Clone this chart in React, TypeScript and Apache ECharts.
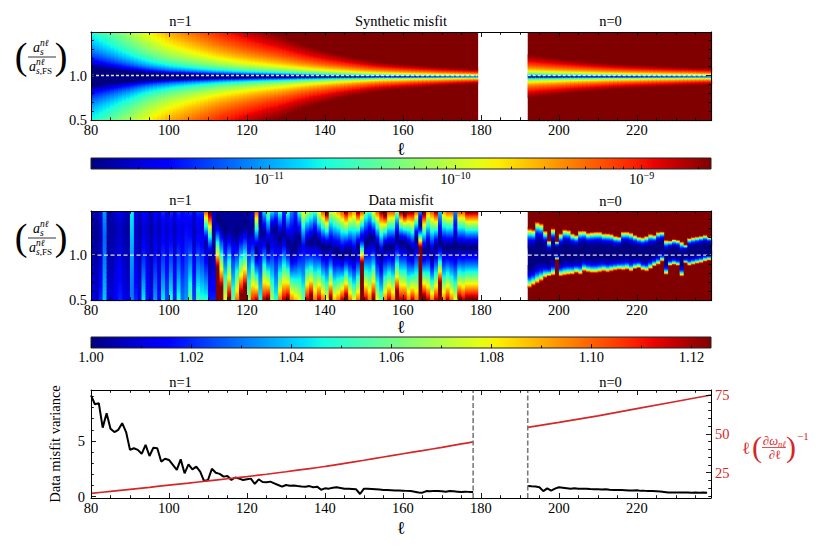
import React, { useEffect, useRef } from "react";
import * as echarts from "echarts";

// ---------------- data ----------------
const N1_FIRST = 80; // first n=1 mode (cells span [l, l+1])
const N1_LAST = 178;
const N0_FIRST = 192;
const N0_LAST = 238;
const X_MIN = 80;
const X_MAX = 239;
const S_MIN = 0.5;
const S_MAX = 1.49;
const S_STEP = 0.01;

const xMajorTicks = [80, 100, 120, 140, 160, 180, 200, 220];
const xMinorTicks = [85, 90, 95, 105, 110, 115, 125, 130, 135, 145, 150, 155, 165, 170, 175, 185, 190, 195, 205, 210, 215, 225, 230, 235];
const sMajorTicks = [0.5, 1.0];
const sMinorTicks = [0.6, 0.7, 0.8, 0.9, 1.1, 1.2, 1.3, 1.4];

// synthetic misfit: log10 gain vs l (read from the contour widths), misfit ~ gain * (s-1)^2
const synthGainL1 = [80, 85, 90, 95, 100, 107, 113, 120, 129, 137, 154, 179];
const synthGain1 = [-10.07, -9.80, -9.50, -9.18, -8.92, -8.66, -8.44, -8.22, -7.96, -7.66, -7.06, -6.46];
const synthGainL0 = [192, 215, 239];
const synthGain0 = [-7.42, -6.93, -6.56];

// colour bar 1 (log10 of misfit)
const cb1Min = -11.955;
const cb1Max = -8.628;
const cb1Labels = [-11, -10, -9];
const cb1Minor = [-11.699, -11.523, -11.398, -11.301, -11.222, -11.155, -11.097, -11.046, -10.699, -10.523, -10.398, -10.301, -10.222, -10.155, -10.097, -10.046, -9.699, -9.523, -9.398, -9.301, -9.222, -9.155, -9.097, -9.046, -8.699];

// colour bar 2
const cb2Min = 1.0;
const cb2Max = 1.1239;
const cb2Labels = [1.0, 1.02, 1.04, 1.06, 1.08, 1.1, 1.12];
const cb2Minor = [1.01, 1.03, 1.05, 1.07, 1.09, 1.11];

// data misfit, n=1 columns (l = 80..178): minimum, its position, value at top edge, value at bottom edge
const dmMin1 = [
  1.004, 1.002, 1.006, 1.028, 1.003, 1.004, 1.006, 1.008, 1.005, 1.004,
  1.03, 1.008, 1.004, 1.01, 1.008, 1.004, 1.01, 1.006, 1.012, 1.008,
  1.012, 1.006, 1.012, 1.01, 1.015, 1.012, 1.006, 1.012, 1.01, 1.005,
  1.003, 1.002, 1.0, 1.0, 1.0, 1.002, 1.002, 1.0, 1.002, 1.0,
  1.003, 1.002, 1.0, 1.002, 1.003, 1.0, 1.004, 1.002, 1.0, 1.003,
  1.0, 1.0, 1.0, 1.0, 1.015, 1.003, 1.0, 1.0, 1.0, 1.0,
  1.0, 1.002, 1.0, 1.0, 1.0, 1.0, 1.0, 1.003, 1.0, 1.01,
  1.0, 1.0, 1.0, 1.0, 1.002, 1.0, 1.0, 1.0, 1.0, 1.0,
  1.0, 1.0, 1.0, 1.0, 1.0, 1.0, 1.0, 1.0, 1.0, 1.0,
  1.0, 1.0, 1.0, 1.0, 1.0, 1.0, 1.0, 1.0, 1.0,
];
const dmCenter1 = [
  1.3, 1.3, 1.2, 1.2, 1.3, 1.3, 1.3, 1.3, 1.3, 1.3,
  0.6, 1.2, 1.3, 1.3, 1.3, 1.3, 1.3, 1.3, 1.3, 1.3,
  1.3, 1.3, 1.3, 1.3, 1.4, 1.35, 1.3, 1.3, 1.3, 1.15,
  1.0, 1.2, 1.4, 1.35, 1.3, 1.3, 1.3, 1.25, 1.3, 1.35,
  1.3, 1.3, 1.05, 1.3, 1.25, 1.1, 1.3, 1.3, 1.2, 1.25,
  1.15, 1.05, 1.1, 1.2, 1.1, 1.15, 1.15, 1.2, 1.15, 1.1,
  1.1, 1.1, 1.05, 1.05, 1.0, 1.05, 1.05, 1.0, 1.1, 1.2,
  1.15, 1.2, 1.2, 1.1, 1.0, 1.1, 1.1, 1.1, 1.2, 1.15,
  1.15, 1.1, 1.05, 1.2, 1.35, 1.05, 1.1, 1.0, 1.1, 1.15,
  1.1, 1.1, 1.1, 1.1, 1.1, 1.1, 1.1, 1.1, 1.1,
];
const dmTop1 = [
  1.006, 1.004, 1.01, 1.034, 1.005, 1.006, 1.01, 1.012, 1.008, 1.006,
  1.045, 1.012, 1.006, 1.015, 1.012, 1.006, 1.015, 1.01, 1.02, 1.012,
  1.02, 1.01, 1.02, 1.015, 1.018, 1.02, 1.01, 1.02, 1.02, 1.1,
  1.13, 1.01, 1.003, 1.003, 1.005, 1.004, 1.004, 1.005, 1.003, 1.005,
  1.005, 1.01, 1.1, 1.01, 1.04, 1.06, 1.04, 1.03, 1.05, 1.02,
  1.05, 1.03, 1.02, 1.05, 1.08, 1.07, 1.06, 1.05, 1.08, 1.1,
  1.13, 1.07, 1.08, 1.09, 1.1, 1.12, 1.1, 1.09, 1.12, 1.1,
  1.06, 1.05, 1.08, 1.1, 1.12, 1.14, 1.1, 1.1, 1.06, 1.12,
  1.14, 1.12, 1.12, 1.1, 1.03, 1.13, 1.09, 1.1, 1.12, 1.04,
  1.09, 1.1, 1.1, 1.03, 1.1, 1.1, 1.12, 1.12, 1.12,
];
const dmBot1 = [
  1.012, 1.008, 1.02, 1.04, 1.01, 1.01, 1.015, 1.02, 1.012, 1.01,
  1.032, 1.02, 1.01, 1.045, 1.018, 1.01, 1.035, 1.015, 1.045, 1.025,
  1.05, 1.02, 1.05, 1.03, 1.035, 1.06, 1.025, 1.055, 1.05, 1.05,
  1.02, 1.02, 1.25, 1.16, 1.08, 1.13, 1.06, 1.1, 1.14, 1.16,
  1.07, 1.11, 1.12, 1.05, 1.12, 1.13, 1.07, 1.05, 1.1, 1.12,
  1.13, 1.1, 1.09, 1.08, 1.06, 1.12, 1.14, 1.1, 1.12, 1.1,
  1.08, 1.13, 1.09, 1.1, 1.12, 1.14, 1.1, 1.08, 1.1, 1.4,
  1.12, 1.1, 1.13, 1.08, 1.06, 1.1, 1.12, 1.1, 1.15, 1.12,
  1.12, 1.1, 1.12, 1.1, 1.6, 1.14, 1.12, 1.1, 1.12, 1.2,
  1.1, 1.12, 1.1, 1.08, 1.13, 1.12, 1.13, 1.13, 1.13,
];

// data misfit, n=0 columns (l = 192..238): upper and lower edge of the low-misfit band
const dmUpper0 = [
  1.31, 1.3, 1.385, 1.367, 1.285, 1.174, 1.311, 1.163, 1.255, 1.3,
  1.293, 1.255, 1.237, 1.285, 1.285, 1.263, 1.27, 1.274, 1.274, 1.255,
  1.255, 1.248, 1.226, 1.218, 1.274, 1.274, 1.263, 1.237, 1.218, 1.211,
  1.226, 1.248, 1.237, 1.27, 1.274, 1.181, 1.174, 1.189, 1.181, 1.163,
  1.126, 1.2, 1.211, 1.218, 1.226, 1.237, 1.218,
];
const dmLower0 = [
  0.644, 0.67, 0.692, 0.718, 0.755, 0.773, 0.781, 0.959, 0.773, 0.781,
  0.788, 0.792, 0.81, 0.792, 0.829, 0.818, 0.81, 0.81, 0.818, 0.829,
  0.818, 0.829, 0.84, 0.848, 0.84, 0.848, 0.829, 0.855, 0.866, 0.84,
  0.829, 0.855, 0.885, 0.903, 0.94, 0.792, 0.892, 0.903, 0.892, 0.773,
  0.922, 0.892, 0.903, 0.914, 0.922, 0.94, 0.951,
];

// bottom panel: data misfit variance
const variance1 = [
  9.1, 8.3, 8.4, 6.2, 7.5, 6.1, 5.8, 6.0, 6.6, 5.8,
  4.2, 4.35, 4.2, 3.85, 4.65, 3.65, 4.4, 4.35, 3.15, 3.4,
  3.3, 2.85, 2.4, 3.35, 2.1, 2.9, 2.45, 2.7, 2.25, 1.4,
  1.5, 2.5, 2.15, 2.05, 1.8, 1.86, 1.5, 1.72, 1.62, 1.5,
  1.56, 1.62, 1.14, 1.56, 1.32, 1.29, 1.35, 1.2, 1.05, 0.9,
  1.05, 0.98, 1.0, 0.95, 0.92, 0.9, 0.95, 0.85, 0.9, 0.62,
  0.75, 0.72, 0.8, 0.84, 0.78, 0.72, 0.7, 0.68, 0.66, 0.24,
  0.72, 0.7, 0.68, 0.66, 0.64, 0.6, 0.6, 0.58, 0.56, 0.55,
  0.54, 0.52, 0.5, 0.45, 0.38, 0.36, 0.5, 0.48, 0.52, 0.5,
  0.48, 0.45, 0.5, 0.48, 0.45, 0.42, 0.45, 0.43, 0.42,
];
const variance0 = [
  0.96, 0.93, 0.92, 0.85, 0.5, 0.75, 0.55, 0.72, 0.84, 0.8,
  0.76, 0.72, 0.75, 0.72, 0.7, 0.72, 0.68, 0.66, 0.66, 0.64,
  0.66, 0.62, 0.6, 0.6, 0.6, 0.58, 0.55, 0.55, 0.57, 0.52,
  0.52, 0.5, 0.5, 0.48, 0.46, 0.42, 0.38, 0.38, 0.37, 0.38,
  0.38, 0.37, 0.36, 0.38, 0.36, 0.37, 0.36,
];
// l (d omega / d l)^-1
const dispL1 = [80, 85, 90, 95, 100, 105, 110, 115, 120, 125, 130, 135, 140, 145, 150, 155, 160, 165, 170, 175, 178];
const disp1 = [11.7, 13.0, 14.3, 15.6, 17.0, 18.3, 19.7, 21.1, 22.5, 24.0, 25.6, 27.3, 29.0, 31.0, 33.0, 35.1, 37.2, 39.2, 41.3, 43.5, 44.8];
const dispL0 = [192, 200, 210, 220, 230, 239];
const disp0 = [54.2, 57.4, 61.6, 66.2, 70.8, 75.0];

const varMin = -0.12;
const varMax = 9.58;
const varMajor = [0, 5];
const varMinor = [1, 2, 3, 4, 6, 7, 8, 9];
const dispMin = 8.72;
const dispMax = 78.2;
const dispMajor = [25, 50, 75];
const dispMinor = [10, 15, 20, 30, 35, 40, 45, 55, 60, 65, 70];
const separators = [178, 192];

// ---------------- helpers ----------------
const FONT = "Liberation Serif, serif";
const RED = "#d62728";
const DM_POWER = 1.3; // shape of the n=1 data-misfit columns away from their minimum

function interp(xs: number[], ys: number[], x: number): number {
  if (x <= xs[0]) return ys[0];
  for (let i = 1; i < xs.length; i++) {
    if (x <= xs[i]) {
      const t = (x - xs[i - 1]) / (xs[i] - xs[i - 1]);
      return ys[i - 1] + t * (ys[i] - ys[i - 1]);
    }
  }
  return ys[ys.length - 1];
}

const JR = { x: [0, 0.35, 0.66, 0.89, 1], y: [0, 0, 1, 1, 0.5] };
const JG = { x: [0, 0.125, 0.375, 0.64, 0.91, 1], y: [0, 0, 1, 1, 0, 0] };
const JB = { x: [0, 0.11, 0.34, 0.65, 1], y: [0.5, 1, 1, 0, 0] };
function jet(t: number): string {
  const c = (v: number) => Math.round(Math.max(0, Math.min(1, v)) * 255);
  return `rgb(${c(interp(JR.x, JR.y, t))},${c(interp(JG.x, JG.y, t))},${c(interp(JB.x, JB.y, t))})`;
}
const PALETTE: string[] = [];
for (let i = 0; i < 256; i++) PALETTE.push(jet(i / 255));
function colorIndex(t: number): number {
  if (!isFinite(t)) return t > 0 ? 255 : 0;
  return Math.max(0, Math.min(255, Math.floor(t * 256)));
}

function columnRuns(l: number, tAt: (sc: number) => number, out: number[][]) {
  const nRows = Math.round((S_MAX - S_MIN) / S_STEP);
  let start = S_MIN;
  let cur = -1;
  for (let k = 0; k < nRows; k++) {
    const lo = S_MIN + k * S_STEP;
    const ci = colorIndex(tAt(lo + S_STEP / 2));
    if (ci !== cur) {
      if (cur >= 0) out.push([l, start, lo, cur]);
      cur = ci;
      start = lo;
    }
  }
  out.push([l, start, S_MAX, cur]);
}

function buildSynth(): number[][] {
  const out: number[][] = [];
  const tOf = (g: number, sc: number) => (g + 2 * Math.log10(Math.abs(sc - 1)) - cb1Min) / (cb1Max - cb1Min);
  for (let l = N1_FIRST; l <= N1_LAST; l++) {
    const g = interp(synthGainL1, synthGain1, l + 0.5);
    columnRuns(l, (sc) => tOf(g, sc), out);
  }
  for (let l = N0_FIRST; l <= N0_LAST; l++) {
    const g = interp(synthGainL0, synthGain0, l + 0.5);
    columnRuns(l, (sc) => tOf(g, sc), out);
  }
  return out;
}

function buildDataMisfit(): number[][] {
  const out: number[][] = [];
  const span = cb2Max - cb2Min;
  for (let i = 0; i < dmMin1.length; i++) {
    const l = N1_FIRST + i;
    const f = dmMin1[i];
    const c = dmCenter1[i];
    const dTop = S_MAX - 0.005 - c;
    const dBot = c - S_MIN - 0.005;
    columnRuns(l, (sc) => {
      const d = sc - c;
      const r = d > 0 ? d / dTop : -d / dBot;
      const edge = d > 0 ? dmTop1[i] : dmBot1[i];
      const v = f + (edge - f) * Math.pow(r, DM_POWER);
      return (v - cb2Min) / span;
    }, out);
  }
  for (let i = 0; i < dmUpper0.length; i++) {
    const l = N0_FIRST + i;
    const c = (dmUpper0[i] + dmLower0[i]) / 2;
    const h = (dmUpper0[i] - dmLower0[i]) / 2;
    columnRuns(l, (sc) => {
      const r = Math.abs(sc - c) / h;
      return (0.124 * r * r * r * r) / span;
    }, out);
  }
  return out;
}

function ax(o: { grid: number; min: number; max: number; pos: string; ticks: number[]; len: number; line: boolean; label?: any }) {
  return {
    type: "value",
    gridIndex: o.grid,
    min: o.min,
    max: o.max,
    position: o.pos,
    z: 10,
    silent: true,
    axisLine: { show: o.line, onZero: false, lineStyle: { color: "#000", width: 1 } },
    axisTick: { show: o.ticks.length > 0, inside: true, length: o.len, customValues: o.ticks, lineStyle: { color: "#000", width: 0.9 } },
    axisLabel: o.label ? { show: true, customValues: o.ticks, ...o.label } : { show: false },
    splitLine: { show: false },
  };
}

function heatRender(params: any, api: any) {
  const l = api.value(0);
  const y0 = api.value(1);
  const y1 = api.value(2);
  const ci = api.value(3);
  const p0 = api.coord([l, y0]);
  const p1 = api.coord([l + 1, y1]);
  return {
    type: "rect",
    shape: { x: p0[0], y: p1[1], width: p1[0] - p0[0] + 1.1, height: p0[1] - p1[1] + 1.1 },
    style: { fill: PALETTE[ci] },
  };
}

function txt(text: string, x: number, y: number, size = 14.5, extra: any = {}) {
  return {
    type: "text",
    x,
    y,
    silent: true,
    style: { text, fontFamily: FONT, fontSize: size, fill: "#000", align: "center", verticalAlign: "middle", ...extra },
  };
}

function fracLabel(cy: number) {
  const it = { fontStyle: "italic", align: "left" };
  return [
    txt("(", 21, cy, 38),
    txt("a", 33, cy - 8.5, 14, it),
    txt("n\u2113", 40, cy - 13.5, 9.5, it),
    txt("s", 40, cy - 4.5, 9.5, it),
    { type: "line", silent: true, shape: { x1: 28, y1: cy + 1, x2: 56, y2: cy + 1 }, style: { stroke: "#000", lineWidth: 0.8 } },
    txt("a", 29, cy + 10.5, 14, it),
    txt("n\u2113", 36, cy + 5.5, 9.5, it),
    txt("{i|s}{r|,FS}", 36, cy + 14.5, 9.5, {
      align: "left",
      rich: {
        i: { fontFamily: FONT, fontSize: 9.5, fontStyle: "italic", fill: "#000" },
        r: { fontFamily: FONT, fontSize: 9, fill: "#000" },
      },
    }),
    txt(")", 61, cy, 38),
  ];
}

function buildOption() {
  const G_SYN = 0, G_CB1 = 1, G_DM = 2, G_CB2 = 3, G_VAR = 4;
  const xAxis: any[] = [];
  const yAxis: any[] = [];
  const addX = (a: any) => { xAxis.push(a); return xAxis.length - 1; };
  const addY = (a: any) => { yAxis.push(a); return yAxis.length - 1; };
  const tickLab = { margin: 2, fontFamily: FONT, fontSize: 14.5, color: "#000" };

  const frameX = (g: number) => {
    const main = addX(ax({ grid: g, min: X_MIN, max: X_MAX, pos: "bottom", ticks: xMajorTicks, len: 5, line: true, label: tickLab }));
    addX(ax({ grid: g, min: X_MIN, max: X_MAX, pos: "bottom", ticks: xMinorTicks, len: 2.8, line: false }));
    addX(ax({ grid: g, min: X_MIN, max: X_MAX, pos: "top", ticks: xMajorTicks, len: 5, line: true }));
    addX(ax({ grid: g, min: X_MIN, max: X_MAX, pos: "top", ticks: xMinorTicks, len: 2.8, line: false }));
    return main;
  };
  const frameYs = (g: number) => {
    const main = addY(ax({ grid: g, min: S_MIN, max: S_MAX, pos: "left", ticks: sMajorTicks, len: 5, line: true,
      label: { ...tickLab, margin: 4, formatter: (v: number) => v.toFixed(1) } }));
    addY(ax({ grid: g, min: S_MIN, max: S_MAX, pos: "left", ticks: sMinorTicks, len: 2.8, line: false }));
    addY(ax({ grid: g, min: S_MIN, max: S_MAX, pos: "right", ticks: sMajorTicks, len: 5, line: true }));
    addY(ax({ grid: g, min: S_MIN, max: S_MAX, pos: "right", ticks: sMinorTicks, len: 2.8, line: false }));
    return main;
  };

  // top heatmap
  const xSyn = frameX(G_SYN);
  const ySyn = frameYs(G_SYN);
  // colour bar 1
  const xCb1 = addX(ax({
    grid: G_CB1, min: cb1Min, max: cb1Max, pos: "bottom", ticks: cb1Labels, len: 4, line: false,
    label: {
      margin: 1,
      formatter: (v: number) => `{b|10}{s|\u2212${Math.round(-v)}}`,
      rich: {
        b: { fontFamily: FONT, fontSize: 14.5, color: "#000", verticalAlign: "bottom", lineHeight: 16 },
        s: { fontFamily: FONT, fontSize: 10, color: "#000", verticalAlign: "top", lineHeight: 16 },
      },
    },
  }));
  addX(ax({ grid: G_CB1, min: cb1Min, max: cb1Max, pos: "bottom", ticks: cb1Minor, len: 2.5, line: false }));
  const yCb1 = addY({ type: "value", gridIndex: G_CB1, min: 0, max: 1, show: false });
  // middle heatmap
  const xDm = frameX(G_DM);
  const yDm = frameYs(G_DM);
  // colour bar 2
  const xCb2 = addX(ax({
    grid: G_CB2, min: cb2Min, max: cb2Max, pos: "bottom", ticks: cb2Labels, len: 4, line: false,
    label: { ...tickLab, margin: 1, formatter: (v: number) => v.toFixed(2) },
  }));
  addX(ax({ grid: G_CB2, min: cb2Min, max: cb2Max, pos: "bottom", ticks: cb2Minor, len: 2.5, line: false }));
  const yCb2 = addY({ type: "value", gridIndex: G_CB2, min: 0, max: 1, show: false });
  // bottom panel
  const xVar = frameX(G_VAR);
  const yVar = addY(ax({ grid: G_VAR, min: varMin, max: varMax, pos: "left", ticks: varMajor, len: 5, line: true, label: { ...tickLab, margin: 6 } }));
  addY(ax({ grid: G_VAR, min: varMin, max: varMax, pos: "left", ticks: varMinor, len: 2.8, line: false }));
  const yDisp = addY(ax({ grid: G_VAR, min: dispMin, max: dispMax, pos: "right", ticks: dispMajor, len: 5, line: true, label: { ...tickLab, margin: 4, color: RED } }));
  addY(ax({ grid: G_VAR, min: dispMin, max: dispMax, pos: "right", ticks: dispMinor, len: 2.8, line: false }));

  const stops: any[] = [];
  for (let i = 0; i <= 32; i++) stops.push({ offset: i / 32, color: jet(i / 32) });
  const cbRender = (params: any) => {
    const cs = params.coordSys;
    return {
      type: "rect",
      shape: { x: cs.x, y: cs.y, width: cs.width, height: cs.height },
      style: { fill: new echarts.graphic.LinearGradient(0, 0, 1, 0, stops), stroke: "#222", lineWidth: 1 },
    };
  };

  const dashed = (xi: number, yi: number, pts: number[][], color: string, width: number, type: any) => ({
    type: "line", xAxisIndex: xi, yAxisIndex: yi, data: pts, symbol: "none", silent: true, z: 4,
    lineStyle: { color, width, type },
  });

  const series: any[] = [
    { type: "custom", name: "synthetic", xAxisIndex: xSyn, yAxisIndex: ySyn, data: buildSynth(), renderItem: heatRender, clip: true, silent: true, z: 1 },
    dashed(xSyn, ySyn, [[N1_FIRST, 1], [N1_LAST + 1, 1]], "rgba(236,236,248,0.95)", 1.6, [3, 2]),
    dashed(xSyn, ySyn, [[N0_FIRST, 1], [X_MAX, 1]], "rgba(236,236,248,0.95)", 1.6, [3, 2]),
    { type: "custom", name: "cb1", xAxisIndex: xCb1, yAxisIndex: yCb1, data: [[cb1Min, 0]], renderItem: cbRender, silent: true, z: 1 },
    { type: "custom", name: "data", xAxisIndex: xDm, yAxisIndex: yDm, data: buildDataMisfit(), renderItem: heatRender, clip: true, silent: true, z: 1 },
    dashed(xDm, yDm, [[N1_FIRST, 1], [N1_LAST + 1, 1]], "rgba(240,240,240,0.95)", 1.3, [4, 2.5]),
    dashed(xDm, yDm, [[N0_FIRST, 1], [X_MAX, 1]], "rgba(240,240,240,0.95)", 1.3, [4, 2.5]),
    { type: "custom", name: "cb2", xAxisIndex: xCb2, yAxisIndex: yCb2, data: [[cb2Min, 0]], renderItem: cbRender, silent: true, z: 1 },
  ];
  for (const s of separators) {
    series.push(dashed(xVar, yVar, [[s, varMin], [s, varMax]], "#7a7a7a", 1.6, [5, 2.5]));
  }
  series.push(
    { type: "line", xAxisIndex: xVar, yAxisIndex: yVar, symbol: "none", silent: true, z: 3, lineStyle: { color: "#000", width: 2 },
      data: variance1.map((v, i) => [N1_FIRST + i, v]) },
    { type: "line", xAxisIndex: xVar, yAxisIndex: yVar, symbol: "none", silent: true, z: 3, lineStyle: { color: "#000", width: 2 },
      data: variance0.map((v, i) => [N0_FIRST + i, v]) },
    { type: "line", xAxisIndex: xVar, yAxisIndex: yDisp, symbol: "none", silent: true, z: 3, smooth: 0.3, lineStyle: { color: RED, width: 1.7 },
      data: disp1.map((v, i) => [dispL1[i], v]) },
    { type: "line", xAxisIndex: xVar, yAxisIndex: yDisp, symbol: "none", silent: true, z: 3, lineStyle: { color: RED, width: 1.7 },
      data: disp0.map((v, i) => [dispL0[i], v]) },
  );

  const ell = (x: number, y: number) => txt("\u2113", x, y, 18);
  const redIt = { fill: RED, fontStyle: "italic", align: "left" };
  const elements: any[] = [
    txt("n=1", 180.5, 21), txt("Synthetic misfit", 401, 20.5), txt("n=0", 610.5, 21),
    ell(401, 149),
    txt("n=1", 180.5, 200), txt("Data misfit", 401, 200), txt("n=0", 610.5, 200.5),
    ell(401, 326.5),
    txt("n=1", 180.5, 381.5), txt("n=0", 610.5, 381.5),
    ell(401, 527.5),
    ...fracLabel(56),
    ...fracLabel(237),
    { type: "text", x: 55, y: 444, rotation: Math.PI / 2, silent: true,
      style: { text: "Data misfit variance", fontFamily: FONT, fontSize: 14.5, fill: "#000", align: "center", verticalAlign: "middle" } },
    txt("\u2113", 746, 448, 17, { fill: RED }),
    txt("(", 757, 446.5, 30, { fill: RED }),
    txt("\u2202\u03c9", 763, 441, 12.5, redIt),
    txt("n\u2113", 778, 444, 8.5, redIt),
    { type: "line", silent: true, shape: { x1: 762, y1: 447.5, x2: 786, y2: 447.5 }, style: { stroke: RED, lineWidth: 0.8 } },
    txt("\u2202\u2113", 775, 454.5, 12.5, { fill: RED }),
    txt(")", 791, 446.5, 30, { fill: RED }),
    txt("\u22121", 797, 435.5, 11, { fill: RED, align: "left" }),
  ];

  const gridBase = { left: 91, width: 620, outerBoundsMode: "none", containLabel: false };
  return {
    animation: false,
    backgroundColor: "#fff",
    textStyle: { fontFamily: FONT },
    grid: [
      { ...gridBase, top: 32, height: 88 },
      { ...gridBase, top: 158, height: 11 },
      { ...gridBase, top: 211, height: 89 },
      { ...gridBase, top: 337, height: 11 },
      { ...gridBase, top: 390, height: 108 },
    ],
    xAxis,
    yAxis,
    series,
    graphic: { elements },
  };
}

export default function App() {
  const ref = useRef<HTMLDivElement>(null);
  useEffect(() => {
    if (!ref.current) return;
    const chart = echarts.init(ref.current, null, { renderer: "svg" });
    chart.setOption(buildOption() as any);
    return () => chart.dispose();
  }, []);
  return (
    <div
      ref={ref}
      style={{ position: "absolute", left: 0, top: 0, width: 830, height: 551, background: "#fff" }}
    />
  );
}
